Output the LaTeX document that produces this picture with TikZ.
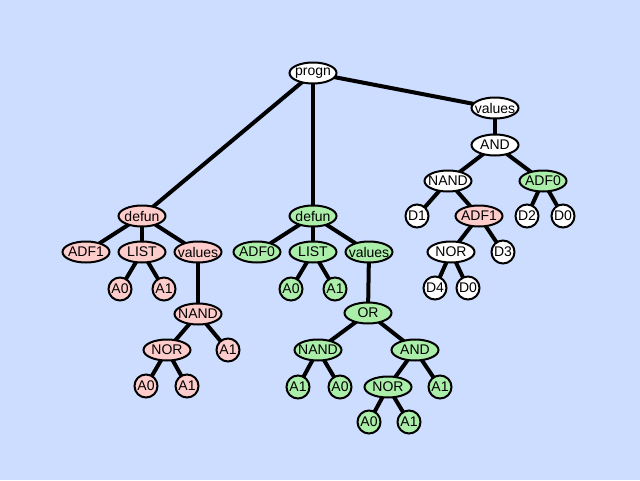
\documentclass[tikz,border=0pt]{standalone}
\usepackage{fontspec}
\setmainfont{Liberation Sans}
\usetikzlibrary{shapes.geometric,backgrounds}
\definecolor{bgblue}{RGB}{204,221,255}
\definecolor{pinkf}{RGB}{255,204,204}
\definecolor{greenf}{RGB}{170,238,170}
\tikzset{
  x=1pt,y=-1pt,
  el/.style={ellipse,draw=black,line width=2pt,minimum width=47pt,minimum height=21pt,inner xsep=-14pt,inner ysep=-6pt,font=\fontsize{14}{14}\selectfont},
  ci/.style={circle,draw=black,line width=2pt,minimum size=23pt,inner sep=-4pt,font=\fontsize{14}{14}\selectfont},
  wh/.style={fill=white},
  pk/.style={fill=pinkf},
  gr/.style={fill=greenf},
  edge/.style={line width=4pt,draw=black}
}
\begin{document}
\begin{tikzpicture}
\begin{pgfonlayer}{background}
\fill[bgblue] (0,0) rectangle (640,480);
\end{pgfonlayer}
\useasboundingbox (0,0) rectangle (640,480);
% root
\node[el,wh] (progn) at (313,73) {progn};
% right subtree
\node[el,wh] (rv) at (495,108) {values};
\node[el,wh] (rand) at (495,145) {AND};
\node[el,wh] (rnand) at (448,181) {NAND};
\node[el,gr] (radf0) at (543,181) {ADF0};
\node[ci,wh] (rd1) at (417,216) {D1};
\node[el,pk] (radf1) at (479,216) {ADF1};
\node[ci,wh] (rd2) at (527,216) {D2};
\node[ci,wh] (rd0a) at (563,216) {D0};
\node[el,wh] (rnor) at (451,252) {NOR};
\node[ci,wh] (rd3) at (503,252) {D3};
\node[ci,wh] (rd4) at (435,288) {D4};
\node[ci,wh] (rd0b) at (468,288) {D0};
% left (pink) subtree
\node[el,pk] (ldef) at (142,216) {defun};
\node[el,pk] (ladf) at (86,252) {ADF1};
\node[el,pk] (llist) at (142,252) {LIST};
\node[el,pk] (lval) at (198,252) {values};
\node[ci,pk] (la0) at (120,289) {A0};
\node[ci,pk] (la1) at (164,289) {A1};
\node[el,pk] (lnand) at (198,314) {NAND};
\node[el,pk] (lnor) at (167,350) {NOR};
\node[ci,pk] (la1b) at (228,350) {A1};
\node[ci,pk] (la0c) at (146,386) {A0};
\node[ci,pk] (la1c) at (187,386) {A1};
% middle (green) subtree
\node[el,gr] (mdef) at (313,216) {defun};
\node[el,gr] (madf) at (257,252) {ADF0};
\node[el,gr] (mlist) at (313,252) {LIST};
\node[el,gr] (mval) at (369,252) {values};
\node[ci,gr] (ma0) at (291,289) {A0};
\node[ci,gr] (ma1) at (335,289) {A1};
\node[el,gr] (mor) at (368,313) {OR};
\node[el,gr] (mnand) at (318,350) {NAND};
\node[el,gr] (mand) at (415,350) {AND};
\node[ci,gr] (ma1b) at (298,387) {A1};
\node[ci,gr] (ma0b) at (340,387) {A0};
\node[el,gr] (mnor) at (388,387) {NOR};
\node[ci,gr] (ma1c) at (440,387) {A1};
\node[ci,gr] (ma0d) at (369,422) {A0};
\node[ci,gr] (ma1d) at (409,422) {A1};
\begin{pgfonlayer}{background}
\foreach \a/\b in {progn/ldef,progn/mdef,progn/rv,
  rv/rand,rand/rnand,rand/radf0,rnand/rd1,rnand/radf1,radf0/rd2,radf0/rd0a,
  radf1/rnor,radf1/rd3,rnor/rd4,rnor/rd0b,
  ldef/ladf,ldef/llist,ldef/lval,llist/la0,llist/la1,lval/lnand,
  lnand/lnor,lnand/la1b,lnor/la0c,lnor/la1c,
  mdef/madf,mdef/mlist,mdef/mval,mlist/ma0,mlist/ma1,mval/mor,
  mor/mnand,mor/mand,mnand/ma1b,mnand/ma0b,mand/mnor,mand/ma1c,
  mnor/ma0d,mnor/ma1d}
  \draw[edge] (\a.center) -- (\b.center);
\end{pgfonlayer}
\end{tikzpicture}
\end{document}
